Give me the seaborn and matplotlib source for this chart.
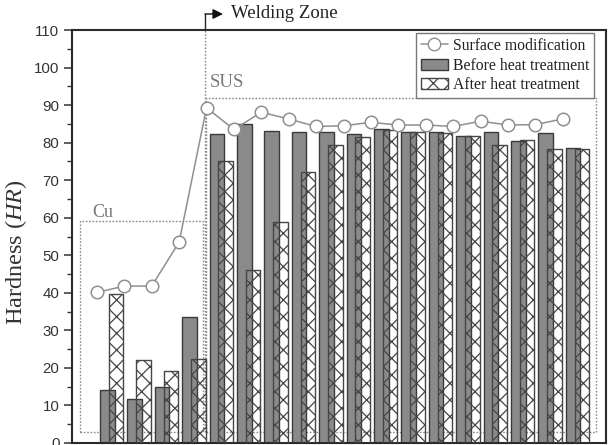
import numpy as np
import matplotlib
matplotlib.use("Agg")
import matplotlib.pyplot as plt
from matplotlib.lines import Line2D
from matplotlib.patches import Patch, Rectangle
import matplotlib.transforms as mtransforms
import seaborn as sns

# ---- data ----
positions = np.arange(18)
surface_mod = [40.1, 41.8, 41.8, 53.5, 89.3, 83.5, 88.1, 86.3, 84.3, 84.5,
               85.4, 84.7, 84.7, 84.3, 85.7, 84.7, 84.8, 86.3]
before_ht = [14.2, 11.8, 14.8, 33.6, 82.2, 85.0, 83.2, 82.9, 82.8, 82.3,
             83.5, 82.9, 82.8, 81.7, 82.9, 80.4, 82.6, 78.7]
after_ht = [39.8, 22.2, 19.1, 22.4, 75.0, 46.2, 58.9, 72.3, 79.3, 81.4,
            83.3, 82.9, 82.6, 81.9, 79.5, 80.8, 78.2, 78.4]
yticks = [0, 10, 20, 30, 40, 50, 60, 70, 80, 90, 100, 110]
legend_labels = ["Surface modification", "Before heat treatment", "After heat treatment"]

sns.set_style("ticks")
plt.rcParams["font.family"] = ["Liberation Serif", "DejaVu Serif"]
plt.rcParams["hatch.color"] = "#505050"
plt.rcParams["hatch.linewidth"] = 0.9
plt.rcParams["mathtext.fontset"] = "custom"
plt.rcParams["mathtext.it"] = "Liberation Serif:italic"
plt.rcParams["mathtext.rm"] = "Liberation Serif"

W, H = 611, 445
fig = plt.figure(figsize=(W / 100, H / 100), dpi=100)
ax = fig.add_axes([72 / W, 2 / H, 534 / W, 413 / H])

before_off, after_off, bw = 0.38, 0.70, 0.53

sns.barplot(x=positions + before_off, y=before_ht, native_scale=True, width=bw,
            color="#8a8a8a", saturation=1, edgecolor="#3a3a3a", linewidth=1.0,
            errorbar=None, ax=ax, zorder=2)
sns.barplot(x=positions + after_off, y=after_ht, native_scale=True, width=bw,
            fill=False, color="#454545", hatch="xx", linewidth=1.0,
            errorbar=None, ax=ax, zorder=3)
sns.lineplot(x=positions, y=surface_mod, color="#8f8f8f", linewidth=1.1,
             marker="o", markersize=9, markerfacecolor="white",
             markeredgecolor="#8f8f8f", markeredgewidth=1.1, ax=ax, zorder=4)

ax.set_xlim(-0.91, 18.58)
ax.set_ylim(0, 110)
ax.set_yticks(yticks)
ax.set_yticks(np.arange(5, 110, 10), minor=True)
ax.set_xticks([])
ax.set_xlabel("")
ax.tick_params(axis="y", which="major", direction="out", length=6, width=1.1,
               color="#333333", labelsize=10.8, labelcolor="#333333", pad=3)
ax.tick_params(axis="y", which="minor", direction="out", length=3.5, width=1.0,
               color="#333333")
for lab in ax.get_yticklabels():
    lab.set_family(["Liberation Sans", "DejaVu Sans"])
for sp in ax.spines.values():
    sp.set_visible(True)
    sp.set_linewidth(1.5)
    sp.set_color("#2a2a2a")

ax.set_ylabel("Hardness ($\\mathit{HR}$)", fontsize=17.5, color="#333333")
ax.yaxis.set_label_coords(-0.080, 0.462)

# region boxes
dot = dict(linestyle=(0, (1.2, 1.2)), linewidth=1.0, edgecolor="#8a8a8a",
           facecolor="none", zorder=1)
ax.add_patch(Rectangle((-0.62, 3), 3.9 + 0.62 - 0.04, 59 - 3, **dot))
ax.add_patch(Rectangle((3.98, 3), 18.2 - 3.98, 92 - 3, **dot))
ax.text(-0.18, 61.3, "Cu", fontsize=13, color="#777777", va="center", ha="left")
ax.text(4.12, 96, "SUS", fontsize=13.5, color="#777777", va="center", ha="left")

# welding zone marker
bx = 3.94
ax.plot([bx, bx], [3, 110], linestyle=(0, (1.2, 1.2)), color="#8a8a8a",
        linewidth=1.0, zorder=1)
trans = mtransforms.blended_transform_factory(ax.transData, ax.transAxes)
ytop = 1 + 16 / 413
ax.plot([bx, bx], [1.0, ytop], transform=trans, color="#222222",
        linewidth=1.0, clip_on=False)
ax.annotate("", xy=(4.6, ytop), xytext=(bx, ytop), xycoords=trans, textcoords=trans,
            arrowprops=dict(arrowstyle="-|>,head_length=0.6,head_width=0.3",
                            color="#111111", linewidth=1.0, shrinkA=0, shrinkB=0),
            annotation_clip=False)
ax.text(4.88, ytop, "Welding Zone", transform=trans, fontsize=13.5,
        color="#222222", va="center", ha="left", clip_on=False)

handles = [
    Line2D([], [], color="#8f8f8f", linewidth=1.1, marker="o", markersize=9,
           markerfacecolor="white", markeredgecolor="#8f8f8f"),
    Patch(facecolor="#8a8a8a", edgecolor="#3a3a3a", linewidth=1.0),
    Patch(facecolor="white", edgecolor="#454545", hatch="xx", linewidth=1.0),
]
leg = ax.legend(handles, legend_labels, loc="upper right",
                bbox_to_anchor=(0.9775, 0.993), borderaxespad=0,
                fontsize=11.3, frameon=True, fancybox=False, framealpha=1,
                edgecolor="#7a7a7a", handlelength=1.75, handletextpad=0.3,
                labelspacing=0.25, borderpad=0.3)
leg.get_frame().set_linewidth(1.0)
for t in leg.get_texts():
    t.set_color("#222222")

fig.savefig("out.png", dpi=100)
